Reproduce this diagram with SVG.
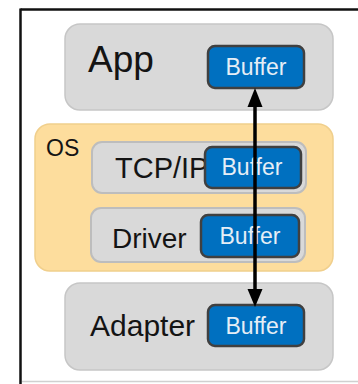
<svg xmlns="http://www.w3.org/2000/svg" width="358" height="384" viewBox="0 0 358 384">
<style>
.layer{fill:#D9D9D9;stroke:#C6C6C6;stroke-width:1.5}
.sub{fill:#D9D9D9;stroke:#BDBDBD;stroke-width:2}
.os{fill:#FDDD9D;stroke:#F0CF8C;stroke-width:1.5}
.buf{fill:#0070C0;stroke:#404040;stroke-width:2.5}
.bt{font-family:"Liberation Sans",Arial,sans-serif;font-size:23px;fill:#E6EEF6;text-anchor:middle}
.lbl{font-family:"Liberation Sans",Arial,sans-serif;fill:#141414}
.conn{stroke:#000;stroke-width:3.5;fill:none}
</style>
<rect width="358" height="384" fill="#fff"/>
<g id="frame">
<line x1="20.5" y1="9.5" x2="358" y2="9.5" stroke="#111" stroke-width="2.5"/>
<line x1="20.5" y1="8.5" x2="20.5" y2="384" stroke="#111" stroke-width="2.5"/>
<line x1="22" y1="381.5" x2="358" y2="381.5" stroke="#D0D0D0" stroke-width="1.5"/>
</g>
<g id="app">
<rect class="layer" x="65" y="24" width="268" height="86" rx="15"/>
<text class="lbl" x="88" y="72" font-size="37">App</text>
</g>
<g id="app-buffer">
<rect class="buf" x="208" y="46" width="96" height="42" rx="7"/>
<text class="bt" x="256" y="75">Buffer</text>
</g>
<g id="os">
<rect class="os" x="35" y="124" width="298" height="147" rx="15"/>
<text class="lbl" x="46" y="156" font-size="23">OS</text>
</g>
<g id="tcpip">
<rect class="sub" x="92" y="142" width="214" height="51" rx="10"/>
<text class="lbl" x="115" y="178" font-size="29">TCP/IP</text>
</g>
<g id="tcpip-buffer">
<rect class="buf" x="205" y="147" width="96" height="41" rx="7"/>
<text class="bt" x="252" y="175" font-size="24">Buffer</text>
</g>
<g id="driver">
<rect class="sub" x="91" y="208" width="214" height="54" rx="10"/>
<text class="lbl" x="112" y="248" font-size="28">Driver</text>
</g>
<g id="driver-buffer">
<rect class="buf" x="201" y="215" width="98" height="42" rx="7"/>
<text class="bt" x="250" y="244" font-size="24">Buffer</text>
</g>
<g id="adapter">
<rect class="layer" x="65" y="283" width="268" height="87" rx="15"/>
<text class="lbl" x="90" y="336" font-size="30">Adapter</text>
</g>
<g id="adapter-buffer">
<rect class="buf" x="208" y="305" width="96" height="41" rx="7"/>
<text class="bt" x="256" y="334">Buffer</text>
</g>
<g id="connectors">
<line class="conn" x1="255" y1="104" x2="255" y2="292"/>
<path d="M255,88 L262.5,107 L247.5,107 Z" fill="#000"/>
<path d="M255,307 L262.5,289 L247.5,289 Z" fill="#000"/>
</g>
</svg>
